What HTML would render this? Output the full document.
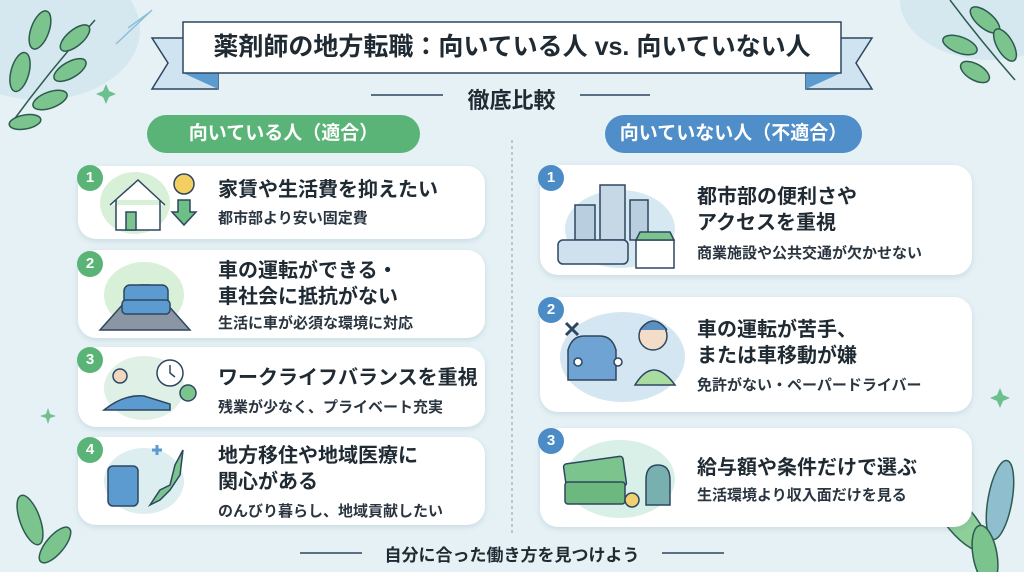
<!DOCTYPE html>
<html><head><meta charset="utf-8"><style>
*{margin:0;padding:0;box-sizing:border-box}
body{width:1024px;height:572px;overflow:hidden;background:#e5f1f5;font-family:"Liberation Sans","Noto Sans CJK JP",sans-serif;color:#1f2a33;position:relative}
.abs{position:absolute}
.card{position:absolute;background:#fff;border-radius:18px;box-shadow:0 2px 6px rgba(80,120,140,.18)}
.badge{position:absolute;width:26px;height:26px;border-radius:50%;color:#fff;font-weight:bold;font-size:15px;text-align:center;line-height:26px}
.g{background:#5bb477}.b{background:#4b8bc6}
.t{position:absolute;font-weight:bold;font-size:20px;line-height:26px;white-space:nowrap}
.s{position:absolute;font-weight:bold;font-size:15px;white-space:nowrap;color:#2a3540}
.blob{position:absolute;border-radius:50%}
</style></head><body>
<div class="blob" style="left:-60px;top:-40px;width:200px;height:140px;background:#d6e8ef"></div>
<div class="blob" style="left:900px;top:-60px;width:180px;height:120px;background:#d6e8ef"></div>
<svg class="abs" style="left:0;top:0" width="1024" height="572">
<g fill="#7cc48e" stroke="#2e5a50" stroke-width="1.5">
<path d="M10 125 Q50 70 95 20" fill="none"/>
<ellipse cx="40" cy="30" rx="9" ry="20" transform="rotate(20 40 30)"/>
<ellipse cx="75" cy="38" rx="8" ry="18" transform="rotate(50 75 38)"/>
<ellipse cx="20" cy="72" rx="9" ry="20" transform="rotate(15 20 72)"/>
<ellipse cx="70" cy="70" rx="8" ry="18" transform="rotate(60 70 70)"/>
<ellipse cx="50" cy="100" rx="8" ry="18" transform="rotate(70 50 100)"/>
<ellipse cx="25" cy="122" rx="7" ry="16" transform="rotate(80 25 122)"/>
<path d="M1015 80 Q980 40 950 0" fill="none"/>
<ellipse cx="985" cy="20" rx="8" ry="18" transform="rotate(-50 985 20)"/>
<ellipse cx="1005" cy="45" rx="8" ry="18" transform="rotate(-30 1005 45)"/>
<ellipse cx="960" cy="45" rx="8" ry="18" transform="rotate(-70 960 45)"/>
<ellipse cx="975" cy="72" rx="8" ry="16" transform="rotate(-60 975 72)"/>
<ellipse cx="30" cy="520" rx="10" ry="26" transform="rotate(-20 30 520)"/>
<ellipse cx="55" cy="545" rx="9" ry="22" transform="rotate(40 55 545)"/>
<ellipse cx="960" cy="520" rx="14" ry="40" transform="rotate(-40 960 520)" fill="#8ecf9a"/>
<ellipse cx="1000" cy="500" rx="12" ry="40" transform="rotate(10 1000 500)" fill="#8fbfcf"/>
<ellipse cx="985" cy="555" rx="12" ry="30" transform="rotate(-10 985 555)"/>
</g>
<path d="M128 28 L150 12 M116 44 L152 10" stroke="#8bbfd8" stroke-width="1.5"/>
<path d="M106 84 l3 7 7 3 -7 3 -3 7 -3 -7 -7 -3 7 -3z M1000 388 l3 7 7 3 -7 3 -3 7 -3 -7 -7 -3 7 -3z M48 408 l2 6 6 2 -6 2 -2 6 -2 -6 -6 -2 6 -2z" fill="#6cc08e"/>
<path d="M152 38 L218 38 L218 89 L152 89 L168 63 Z" fill="#cfe4f0" stroke="#2e4660" stroke-width="1.5"/>
<path d="M872 38 L806 38 L806 89 L872 89 L856 63 Z" fill="#cfe4f0" stroke="#2e4660" stroke-width="1.5"/>
<path d="M183 73 L218 89 L218 73Z M841 73 L806 89 L806 73Z" fill="#5b9bd0"/>
<rect x="183" y="22" width="658" height="51" fill="#fff" stroke="#2e4660" stroke-width="1.5"/>
<line x1="371" y1="95" x2="443" y2="95" stroke="#2e4660" stroke-width="1.5"/>
<line x1="580" y1="95" x2="650" y2="95" stroke="#2e4660" stroke-width="1.5"/>
<line x1="512" y1="140" x2="512" y2="535" stroke="#7fa2b8" stroke-width="1" stroke-dasharray="3 3"/>
<line x1="300" y1="553" x2="362" y2="553" stroke="#2e4660" stroke-width="1.5"/>
<line x1="662" y1="553" x2="724" y2="553" stroke="#2e4660" stroke-width="1.5"/>
</svg>
<div class="abs" style="left:183px;top:28px;width:658px;text-align:center;font-size:25px;font-weight:bold;line-height:38px">薬剤師の地方転職：向いている人 vs. 向いていない人</div>
<div class="abs" style="left:443px;top:83px;width:137px;text-align:center;font-size:22px;font-weight:bold">徹底比較</div>
<div class="abs" style="left:147px;top:115px;width:273px;height:38px;border-radius:19px;background:#5bb477;color:#fff;font-size:19px;font-weight:bold;text-align:center;line-height:38px">向いている人（適合）</div>
<div class="abs" style="left:605px;top:115px;width:257px;height:38px;border-radius:19px;background:#4f8ec9;color:#fff;font-size:19px;font-weight:bold;text-align:center;line-height:38px">向いていない人（不適合）</div>

<div class="card" style="left:78px;top:166px;width:407px;height:73px"></div>
<div class="card" style="left:78px;top:250px;width:407px;height:88px"></div>
<div class="card" style="left:78px;top:347px;width:407px;height:80px"></div>
<div class="card" style="left:78px;top:437px;width:407px;height:88px"></div>
<div class="badge g" style="left:77px;top:165px">1</div>
<div class="badge g" style="left:77px;top:251px">2</div>
<div class="badge g" style="left:77px;top:347px">3</div>
<div class="badge g" style="left:77px;top:437px">4</div>
<div class="blob" style="left:100px;top:172px;width:70px;height:62px;background:#d8f0d8"></div>
<div class="blob" style="left:104px;top:262px;width:80px;height:66px;background:#d8f0d8"></div>
<div class="blob" style="left:104px;top:356px;width:80px;height:64px;background:#dff0e6"></div>
<div class="blob" style="left:104px;top:448px;width:80px;height:66px;background:#dceef0"></div>
<svg class="abs" style="left:0;top:0" width="512" height="572" fill="none" stroke="#2e4660" stroke-width="1.5">
<path d="M110 205 L138 180 L165 205 M116 200 V230 H160 V200" fill="#fff"/>
<rect x="126" y="212" width="10" height="18" fill="#7cc48e"/>
<circle cx="184" cy="184" r="10" fill="#f3cf62"/>
<path d="M178 200 h12 v12 h6 l-12 13 -12 -13 h6z" fill="#6cbf85"/>
<path d="M100 330 L140 285 L150 285 L190 330Z" fill="#8a96a4"/>
<rect x="124" y="285" width="44" height="24" rx="6" fill="#5b9bd0"/>
<rect x="122" y="300" width="48" height="14" rx="4" fill="#5b9bd0"/>
<path d="M104 410 q20 -16 40 -14 l26 8 v6z" fill="#5b9bd0"/>
<circle cx="120" cy="376" r="7" fill="#f0d8c0"/>
<circle cx="170" cy="373" r="13" fill="#fff"/>
<path d="M170 365 v8 l5 4"/>
<circle cx="188" cy="393" r="8" fill="#7cc48e"/>
<rect x="108" y="466" width="30" height="40" rx="5" fill="#5b9bd0"/>
<path d="M150 505 l10 -15 10 -5 5 -20 8 -15 -3 25 -10 15 -10 10z" fill="#7cc48e"/>
<path d="M152 450 h10 M157 445 v10" stroke="#5b9bd0" stroke-width="3"/>
</svg>
<div class="t" style="left:218px;top:177px">家賃や生活費を抑えたい</div>
<div class="s" style="left:218px;top:207px">都市部より安い固定費</div>
<div class="t" style="left:218px;top:258px">車の運転ができる・<br>車社会に抵抗がない</div>
<div class="s" style="left:218px;top:312px">生活に車が必須な環境に対応</div>
<div class="t" style="left:218px;top:365px">ワークライフバランスを重視</div>
<div class="s" style="left:218px;top:396px">残業が少なく、プライベート充実</div>
<div class="t" style="left:218px;top:443px">地方移住や地域医療に<br>関心がある</div>
<div class="s" style="left:218px;top:500px">のんびり暮らし、地域貢献したい</div>

<div class="card" style="left:540px;top:165px;width:432px;height:110px"></div>
<div class="card" style="left:540px;top:297px;width:432px;height:115px"></div>
<div class="card" style="left:540px;top:428px;width:432px;height:99px"></div>
<div class="badge b" style="left:538px;top:165px">1</div>
<div class="badge b" style="left:538px;top:297px">2</div>
<div class="badge b" style="left:538px;top:428px">3</div>
<div class="blob" style="left:565px;top:190px;width:110px;height:78px;background:#d6e8f2"></div>
<div class="blob" style="left:560px;top:312px;width:125px;height:90px;background:#d3e6f2"></div>
<div class="blob" style="left:565px;top:440px;width:110px;height:78px;background:#d8f0e8"></div>
<svg class="abs" style="left:0;top:0" width="1024" height="572" fill="none" stroke="#2e4660" stroke-width="1.5">
<rect x="575" y="205" width="20" height="35" fill="#b9cfe0"/>
<rect x="600" y="185" width="25" height="55" fill="#c6d8e6"/>
<rect x="630" y="200" width="18" height="40" fill="#b9cfe0"/>
<rect x="558" y="240" width="70" height="24" rx="5" fill="#cfe0ee"/>
<rect x="636" y="240" width="38" height="28" fill="#fff"/>
<path d="M636 240 h38 l-4 -8 h-30z" fill="#7cc48e"/>
<path d="M566 323 l12 12 M578 323 l-12 12" stroke="#2e4660" stroke-width="3"/>
<path d="M568 350 q4 -14 16 -14 h16 q12 0 16 14 v30 h-48z" fill="#6fa3d4"/>
<circle cx="578" cy="362" r="4" fill="#fff"/><circle cx="618" cy="362" r="4" fill="#fff"/>
<circle cx="653" cy="336" r="14" fill="#f3dcc8"/>
<path d="M640 330 q13 -18 27 0" fill="#5b8fc0"/>
<path d="M635 385 q18 -30 40 0z" fill="#a8dca0"/>
<rect x="565" y="460" width="60" height="30" rx="3" fill="#7cc48e" transform="rotate(-8 595 475)"/>
<rect x="565" y="482" width="60" height="22" rx="3" fill="#6cb87e"/>
<circle cx="632" cy="500" r="7" fill="#f0d070"/>
<path d="M646 480 q0 -15 12 -15 q12 0 12 15 v25 h-24z" fill="#78b0b0"/>
</svg>
<div class="t" style="left:697px;top:184px">都市部の便利さや<br>アクセスを重視</div>
<div class="s" style="left:697px;top:242px">商業施設や公共交通が欠かせない</div>
<div class="t" style="left:697px;top:317px">車の運転が苦手、<br>または車移動が嫌</div>
<div class="s" style="left:697px;top:374px">免許がない・ペーパードライバー</div>
<div class="t" style="left:697px;top:455px">給与額や条件だけで選ぶ</div>
<div class="s" style="left:697px;top:484px">生活環境より収入面だけを見る</div>

<div class="abs" style="left:342px;top:541px;width:340px;text-align:center;font-size:17px;font-weight:bold">自分に合った働き方を見つけよう</div>
</body></html>
